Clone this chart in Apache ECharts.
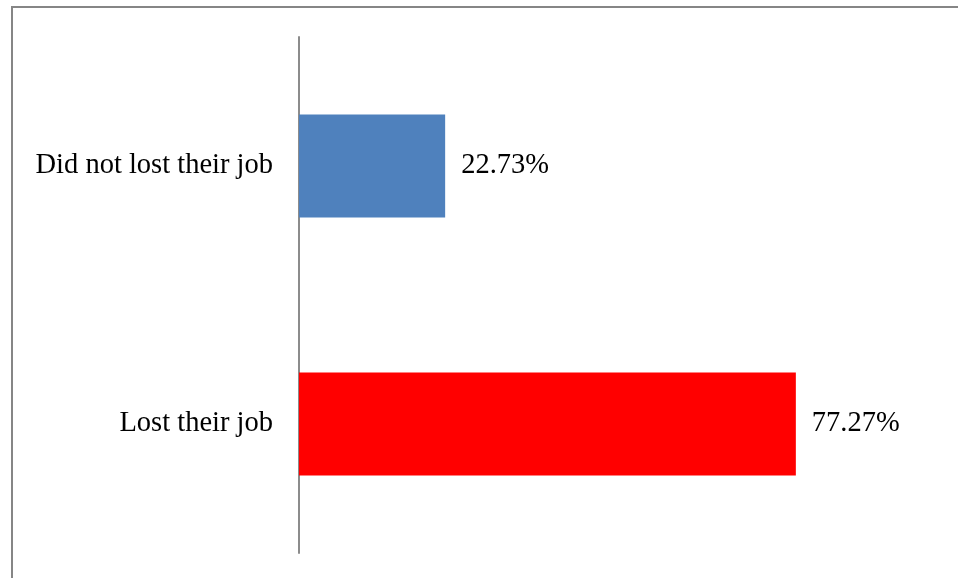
<!DOCTYPE html>
<html><head><meta charset="utf-8">
<script src="https://cdn.jsdelivr.net/npm/echarts@6/dist/echarts.min.js"></script>
<style>html,body{margin:0;padding:0;background:#fff}#c{width:958px;height:578px}</style>
</head><body><div id="c"></div>
<script>
var categories = ['Lost their job', 'Did not lost their job'];
var values = [77.27, 22.73];
var colors = ['#FF0000', '#4F81BD'];

var chart = echarts.init(document.getElementById('c'), null, {renderer: 'canvas'});
chart.setOption({
  animation: false,
  backgroundColor: '#fff',
  graphic: [{
    type: 'rect', silent: true,
    shape: {x: 12, y: 7, width: 1000, height: 1000},
    style: {fill: 'none', stroke: '#868686', lineWidth: 2}
  }],
  grid: {left: 299, right: 16, top: 37, bottom: 25, containLabel: false},
  xAxis: {
    type: 'value', min: 0, max: 100, show: false
  },
  yAxis: {
    type: 'category', data: categories,
    axisLine: {show: true, lineStyle: {color: '#8C8C8C', width: 2}},
    axisTick: {show: false},
    axisLabel: {fontFamily: 'Liberation Serif', fontSize: 28.5, color: '#000', margin: 26}
  },
  series: [{
    type: 'bar',
    data: values.map(function (v, i) { return {value: v, itemStyle: {color: colors[i]}}; }),
    barWidth: '40%',
    label: {
      show: true, position: 'right', distance: 16,
      fontFamily: 'Liberation Serif', fontSize: 28.5, color: '#000',
      formatter: function (p) { return p.value.toFixed(2) + '%'; }
    }
  }]
});
</script></body></html>
